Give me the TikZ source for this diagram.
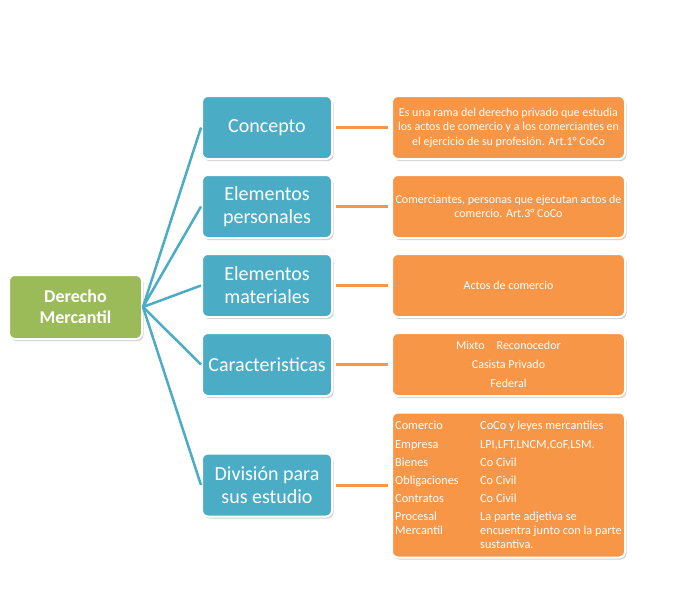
\documentclass[tikz,border=0pt]{standalone}
\usepackage{fontspec}
\setmainfont{Carlito}
\usetikzlibrary{shadows}
\definecolor{verde}{HTML}{9BBB59}
\definecolor{azul}{HTML}{4BACC6}
\definecolor{naranja}{HTML}{F79646}
\tikzset{
  caja/.style={draw=white,line width=2pt,rounded corners=6pt,text=white,align=center,inner sep=2pt,
    drop shadow={shadow xshift=1.5pt,shadow yshift=-2pt,fill=black,opacity=0.18}},
  raiz/.style={caja,fill=verde,minimum width=133pt,minimum height=64pt,font=\fontsize{18}{21}\selectfont\bfseries},
  tema/.style={caja,fill=azul,minimum width=130pt,minimum height=63pt,font=\fontsize{20}{23}\selectfont},
  nota/.style={caja,fill=naranja,minimum width=233pt,minimum height=63pt,font=\fontsize{12}{14.5}\selectfont},
  rama/.style={azul,line width=2.5pt},
  enlace/.style={naranja,line width=3pt}
}
\begin{document}
\begin{tikzpicture}[x=1pt,y=-1pt]
  \useasboundingbox (0,0) rectangle (680,606);
  \node[raiz] (dm) at (75.5,307) {Derecho\\Mercantil};
  \node[tema] (concepto) at (267,127.5) {Concepto};
  \node[tema] (personales) at (267,206.5) {Elementos\\personales};
  \node[tema] (materiales) at (267,285.5) {Elementos\\materiales};
  \node[tema] (caract) at (267,364.5) {Caracteristicas};
  \node[tema] (division) at (267,485) {División para\\sus estudio};
  \node[nota] (tconcepto) at (508.5,127.5) {Es una rama del derecho privado que estudia\\los actos de comercio y a los comerciantes en\\el ejercicio de su profesión. Art.1° CoCo};
  \node[nota] (tpersonales) at (508.5,206.5) {Comerciantes, personas que ejecutan actos de\\comercio. Art.3° CoCo};
  \node[nota] (tmateriales) at (508.5,285.5) {Actos de comercio};
  \node[nota,font=\fontsize{12}{19}\selectfont] (tcaract) at (508.5,364.5) {Mixto\quad Reconocedor\\Casista Privado\\Federal};
  \node[nota,minimum height=145pt] (tdivision) at (508.5,485) {};
  \node[anchor=north west,inner sep=0pt,text=white,font=\fontsize{12.3}{14}\selectfont] (tabla) at (395,417) {%
    \renewcommand{\arraystretch}{1.3}%
    \begin{tabular}{@{}p{85pt}@{}p{150pt}@{}}
      Comercio & CoCo y leyes mercantiles\\
      Empresa & LPI,LFT,LNCM,CoF,LSM.\\
      Bienes & Co Civil\\
      Obligaciones & Co Civil\\
      Contratos & Co Civil\\
      Procesal\newline Mercantil & La parte adjetiva se\newline encuentra junto con la parte\newline sustantiva.
    \end{tabular}};
  \foreach \t in {concepto,personales,materiales,caract,division}
    \draw[rama] (dm.east) -- (\t.west);
  \foreach \t in {concepto,personales,materiales,caract,division}
    \draw[enlace] ([xshift=3pt]\t.east) -- ([xshift=-3pt]t\t.west);
\end{tikzpicture}
\end{document}
